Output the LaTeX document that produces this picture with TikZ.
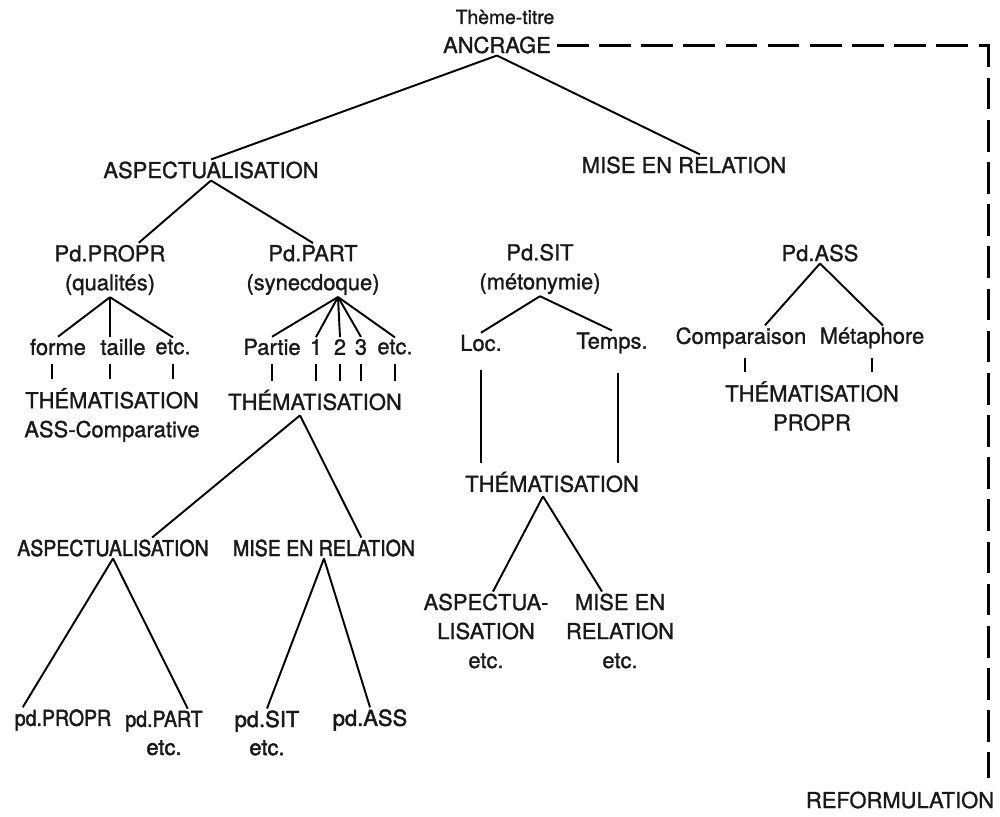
\documentclass[tikz,border=0pt]{standalone}
\usepackage{fontspec}
\setmainfont{TeX Gyre Heros}
\newfontfamily\epais{TeX Gyre Heros}[FakeBold=1.2]
\newfontfamily\tresepais{TeX Gyre Heros}[FakeBold=2]
\usetikzlibrary{calc}
\tikzset{
  lab/.style={font=\epais\fontsize{12.5}{16.5}\selectfont, align=center, inner sep=1pt, text=black!90},
  bas/.style={lab, font=\tresepais\fontsize{12.5}{16}\selectfont},
  petit/.style={lab, font=\epais\fontsize{11}{13}\selectfont},
  br/.style={line width=1.1pt},
  tick/.style={br, shorten <=4pt, shorten >=4pt},
  retour/.style={line width=1.7pt, dash pattern=on 18pt off 6pt},
}
\newcommand{\etroit}[1]{\scalebox{0.89}[1]{#1}}

\begin{document}
\begin{tikzpicture}[x=0.02cm,y=-0.02cm]
  \useasboundingbox (0,0) rectangle (1000,816);
  % sommet
  \node[petit] (titre) at (505,17) {Thème-titre};
  \node[lab] (ancrage) at (497,45) {ANCRAGE};
  \node[lab] (aspA) at (211,170) {ASPECTUALISATION};
  \node[lab] (miseA) at (684,165) {MISE EN RELATION};
  % branche gauche
  \node[lab] (propr) at (110,270) {Pd.PROPR\\(qualités)};
  \node[lab] (part) at (313,270) {Pd.PART\\(synecdoque)};
  \node[lab] (forme) at (58,347) {forme};
  \node[lab] (taille) at (123,347) {taille};
  \node[lab] (etcA) at (173,347) {etc.};
  \node[lab] (partie) at (272,347) {Partie};
  \node[lab] (n1) at (316,347) {1};
  \node[lab] (n2) at (340,347) {2};
  \node[lab] (n3) at (361,347) {3};
  \node[lab] (etcB) at (395,347) {etc.};
  \node[lab] (themaA) at (112,415) {THÉMATISATION\\ASS-Comparative};
  \node[lab] (themaB) at (315,400) {THÉMATISATION};
  \node[bas] (aspB) at (113,548) {\etroit{ASPECTUALISATION}};
  \node[bas] (miseB) at (324,548) {\etroit{MISE EN RELATION}};
  \node[bas] (ppropr) at (63,720) {\etroit{pd.PROPR}};
  \node[bas] (ppart) at (164,733) {\etroit{pd.PART}\\etc.};
  \node[bas] (psit) at (267,733) {pd.SIT\\etc.};
  \node[bas] (pass) at (370,720) {pd.ASS};
  % branche du milieu
  \node[lab] (sit) at (540,269) {Pd.SIT\\(métonymie)};
  \node[lab] (loc) at (481,343) {Loc.};
  \node[lab] (temps) at (612,343) {Temps.};
  \node[lab] (themaC) at (552,482) {THÉMATISATION};
  \node[lab] (aspC) at (486,631) {ASPECTUA-\\LISATION\\etc.};
  \node[lab] (miseC) at (620,631) {MISE EN\\RELATION\\etc.};
  % branche droite
  \node[lab] (ass) at (820,253) {Pd.ASS};
  \node[lab] (comp) at (741,338) {Comparaison};
  \node[lab] (meta) at (872,338) {Métaphore};
  \node[lab] (themaD) at (812,406) {THÉMATISATION\\PROPR};
  \node[lab] (reform) at (900,800) {REFORMULATION};

  % traits
  \draw[br] (ancrage.south) -- (aspA.north);
  \draw[br] (ancrage.south) -- ($(miseA.north)+(16,0)$);
  \draw[br] (aspA.south) -- ($(propr.north)!.5!(propr.north east)$);
  \draw[br] (aspA.south) -- (part.north);
  \draw[br] (propr.south) -- (forme.north);
  \draw[br] (propr.south) -- (propr.south |- taille.north);
  \draw[br] (propr.south) -- (etcA.north);
  \draw[tick] ($(forme.south)+(-6,0)$) coordinate (tf) -- (tf |- themaA.north);
  \draw[tick] (propr.south |- taille.south) -- (propr.south |- themaA.north);
  \draw[tick] (etcA.south) -- (etcA.south |- themaA.north);
  \coordinate (partbas) at ($(part.south)+(25,0)$);
  \foreach \f in {partie,n1,n2,n3,etcB} {
    \draw[br] (partbas) -- (\f.north);
    \draw[tick] (\f.south) -- (\f.south |- themaB.north);
  }
  \coordinate (thbas) at ($(themaB.south)+(-15,3)$);
  \draw[br] (thbas) -- ($(aspB.north)!.4!(aspB.north east)$);
  \draw[br] (thbas) -- ($(miseB.north)!.4!(miseB.north east)$);
  \draw[br] (aspB.south) -- ($(ppropr.north west)+(10,0)$);
  \draw[br] (aspB.south) -- ($(ppart.north east)+(-17,0)$);
  \draw[br] (miseB.south) -- (psit.north);
  \draw[br] (miseB.south) -- (pass.north);

  \draw[br] (sit.south) -- (loc.north);
  \draw[br] (sit.south) -- (temps.north);
  \draw[tick] ($(loc.south)+(0,10)$) -- (loc.south |- themaC.north);
  \draw[tick] ($(temps.south)+(6,10)$) coordinate (tt) -- (tt |- themaC.north);
  \draw[br] ($(themaC.south)+(-9,2)$) -- ($(aspC.north)+(7,0)$);
  \draw[br] ($(themaC.south)+(-9,2)$) -- ($(miseC.north)+(-18,0)$);

  \draw[br] (ass.south) -- ($(comp.north)+(24,0)$);
  \draw[br] (ass.south) -- ($(meta.north)+(11,0)$);
  \draw[tick] ($(comp.south)+(4,0)$) coordinate (tc) -- (tc |- themaD.north);
  \draw[tick] (meta.south) -- (meta.south |- themaD.north);

  % reformulation
  \coordinate (coin) at (988,45);
  \draw[retour] ($(ancrage.east)+(4,0)$) -- (coin) -- ($(coin |- reform.north)+(0,-12)$);
\end{tikzpicture}
\end{document}
